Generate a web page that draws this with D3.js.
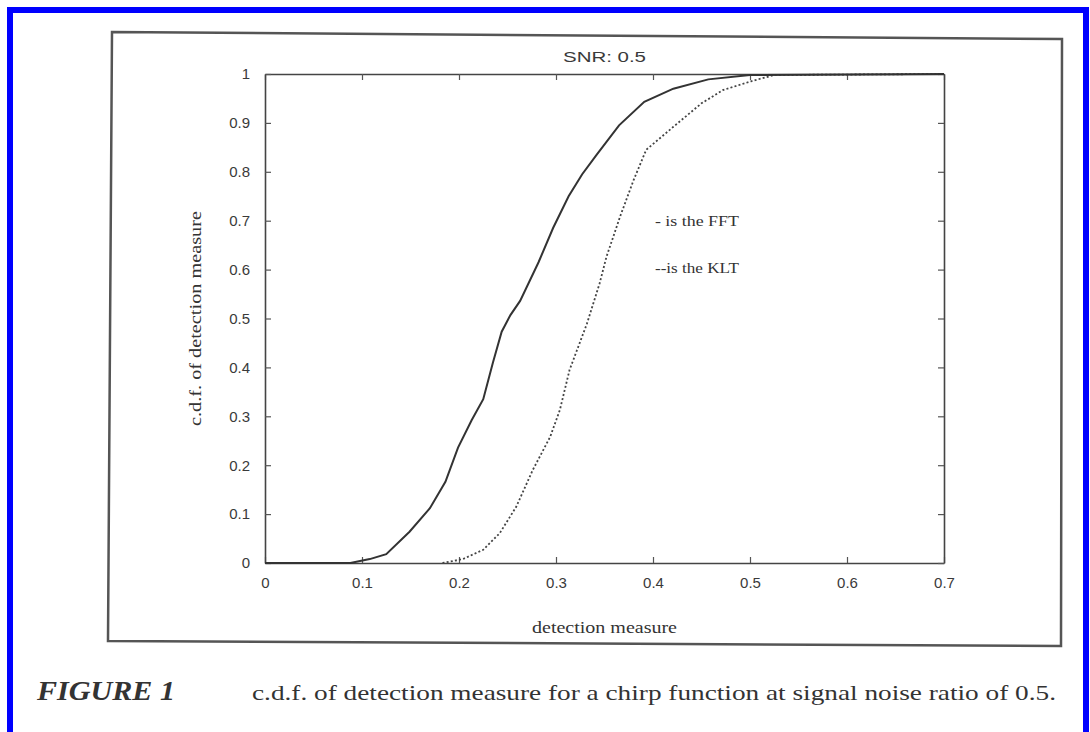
<!DOCTYPE html>
<html>
<head>
<meta charset="utf-8">
<script src="https://cdn.jsdelivr.net/npm/d3@7"></script>
<style>
  body { margin: 0; background: #fff; }
  .tickText { font-family: "Liberation Sans", Arial, Helvetica, sans-serif; font-size: 15px; fill: #3a3a3a; }
  .axisText { font-family: "Liberation Serif", "Times New Roman", Times, serif; fill: #333; }
</style>
</head>
<body>
<div id="chart"></div>
<script>
// chart values
var xTicks = [0, 0.1, 0.2, 0.3, 0.4, 0.5, 0.6, 0.7];
var yTicks = [0, 0.1, 0.2, 0.3, 0.4, 0.5, 0.6, 0.7, 0.8, 0.9, 1];

// solid line: FFT
var fftX = [0, 0.088, 0.108, 0.125, 0.149, 0.170, 0.186, 0.199, 0.213, 0.225, 0.235, 0.244, 0.253, 0.263, 0.282, 0.297, 0.313, 0.327, 0.342, 0.365, 0.391, 0.421, 0.457, 0.50, 0.7];
var fftY = [0, 0, 0.008, 0.018, 0.064, 0.112, 0.166, 0.236, 0.292, 0.335, 0.41, 0.473, 0.507, 0.536, 0.615, 0.685, 0.75, 0.795, 0.835, 0.895, 0.943, 0.97, 0.989, 0.998, 1];

// dotted line: KLT
var kltX = [0.183, 0.204, 0.225, 0.242, 0.259, 0.276, 0.294, 0.304, 0.314, 0.332, 0.345, 0.352, 0.366, 0.380, 0.393, 0.421, 0.45, 0.472, 0.501, 0.525, 0.7];
var kltY = [0, 0.008, 0.027, 0.061, 0.115, 0.19, 0.258, 0.313, 0.395, 0.49, 0.572, 0.626, 0.708, 0.783, 0.845, 0.892, 0.94, 0.967, 0.985, 0.998, 1];

var titleText = "SNR: 0.5";
var xLabel = "detection measure";
var yLabel = "c.d.f. of detection measure";
var legendLines = ["- is the FFT", "--is the KLT"];
var figLabel = "FIGURE 1";
var captionText = "c.d.f. of detection measure for a chirp function at signal noise ratio of 0.5.";

var svgWidth = 1090;
var svgHeight = 732;

var margin = { top: 74, right: 146, bottom: 169, left: 265 };
var width = svgWidth - margin.left - margin.right;
var height = svgHeight - margin.top - margin.bottom;

var svg = d3.select("#chart")
  .append("svg")
  .attr("width", svgWidth)
  .attr("height", svgHeight);

svg.append("rect")
  .attr("width", svgWidth)
  .attr("height", svgHeight)
  .attr("fill", "#fff");

// blue border round the page
svg.append("rect")
  .attr("x", 10)
  .attr("y", 10)
  .attr("width", 1076)
  .attr("height", 800)
  .attr("fill", "none")
  .attr("stroke", "#0000ff")
  .attr("stroke-width", 6);

// slightly skewed scanned frame round the plot
svg.append("path")
  .attr("d", "M112,32 L1062,39 L1061,646 L108,641 Z")
  .attr("fill", "none")
  .attr("stroke", "#555")
  .attr("stroke-width", 2.5);

var chartGroup = svg.append("g")
  .attr("transform", `translate(${margin.left}, ${margin.top})`);

var xScale = d3.scaleLinear().domain([0, 0.7]).range([0, width]);
var yScale = d3.scaleLinear().domain([0, 1]).range([height, 0]);

var fmt = function(d) { return (d === 0 || d === 1) ? String(d) : d.toFixed(1); };

var bottomAxis = d3.axisBottom(xScale).tickValues(xTicks).tickFormat(fmt).tickSizeInner(-6).tickSizeOuter(0).tickPadding(14);
var topAxis = d3.axisTop(xScale).tickValues(xTicks).tickFormat("").tickSizeInner(-6).tickSizeOuter(0);
var leftAxis = d3.axisLeft(yScale).tickValues(yTicks).tickFormat(fmt).tickSizeInner(-6).tickSizeOuter(0).tickPadding(15);
var rightAxis = d3.axisRight(yScale).tickValues(yTicks).tickFormat("").tickSizeInner(-6).tickSizeOuter(0);

function styleAxis(g) {
  g.selectAll("path").attr("stroke", "#444").attr("stroke-width", 1.6);
  g.selectAll("line").attr("stroke", "#555").attr("stroke-width", 1.2);
  g.selectAll("text").attr("class", "tickText").attr("font-size", null).attr("font-family", null);
}

chartGroup.append("g").attr("transform", `translate(0, ${height})`).call(bottomAxis).call(styleAxis);
chartGroup.append("g").call(topAxis).call(styleAxis);
chartGroup.append("g").call(leftAxis).call(styleAxis);
chartGroup.append("g").attr("transform", `translate(${width}, 0)`).call(rightAxis).call(styleAxis);

var line = d3.line()
  .x(d => xScale(d[0]))
  .y(d => yScale(d[1]));

var fftData = fftX.map((x, i) => [x, fftY[i]]);
var kltData = kltX.map((x, i) => [x, kltY[i]]);

chartGroup.append("path")
  .datum(kltData)
  .attr("d", line)
  .attr("fill", "none")
  .attr("stroke", "#444")
  .attr("stroke-width", 1.8)
  .attr("stroke-dasharray", "2,2.2");

chartGroup.append("path")
  .datum(fftData)
  .attr("d", line)
  .attr("fill", "none")
  .attr("stroke", "#333")
  .attr("stroke-width", 2);

// title
chartGroup.append("text")
  .attr("class", "tickText")
  .attr("x", width / 2)
  .attr("y", -12)
  .attr("text-anchor", "middle")
  .style("font-size", "15px")
  .attr("textLength", 83)
  .attr("lengthAdjust", "spacingAndGlyphs")
  .text(titleText);

// axis labels
chartGroup.append("text")
  .attr("class", "axisText")
  .attr("text-anchor", "middle")
  .attr("transform", `translate(${width / 2}, ${height + 70})`)
  .style("font-size", "16px")
  .attr("textLength", 145)
  .attr("lengthAdjust", "spacingAndGlyphs")
  .text(xLabel);

chartGroup.append("text")
  .attr("class", "axisText")
  .attr("text-anchor", "middle")
  .attr("transform", `translate(-64, ${height / 2}) rotate(-90)`)
  .style("font-size", "16px")
  .attr("textLength", 215)
  .attr("lengthAdjust", "spacingAndGlyphs")
  .text(yLabel);

// legend text
chartGroup.selectAll(".legendText")
  .data(legendLines)
  .enter()
  .append("text")
  .attr("class", "axisText legendText")
  .attr("x", xScale(0.402))
  .attr("y", (d, i) => yScale(0.7) + 5 + i * 47)
  .style("font-size", "15px")
  .attr("textLength", 84)
  .attr("lengthAdjust", "spacingAndGlyphs")
  .text(d => d);

// figure caption
svg.append("text")
  .attr("x", 37)
  .attr("y", 700)
  .style("font-family", "'Liberation Serif', 'Times New Roman', Times, serif")
  .attr("font-weight", "bold")
  .attr("font-style", "italic")
  .attr("font-size", 28)
  .attr("fill", "#333")
  .attr("textLength", 138)
  .attr("lengthAdjust", "spacingAndGlyphs")
  .text(figLabel);

svg.append("text")
  .attr("x", 252)
  .attr("y", 700)
  .style("font-family", "'Liberation Serif', 'Times New Roman', Times, serif")
  .attr("font-size", 22)
  .attr("fill", "#333")
  .attr("textLength", 804)
  .attr("lengthAdjust", "spacingAndGlyphs")
  .text(captionText);
</script>
</body>
</html>
